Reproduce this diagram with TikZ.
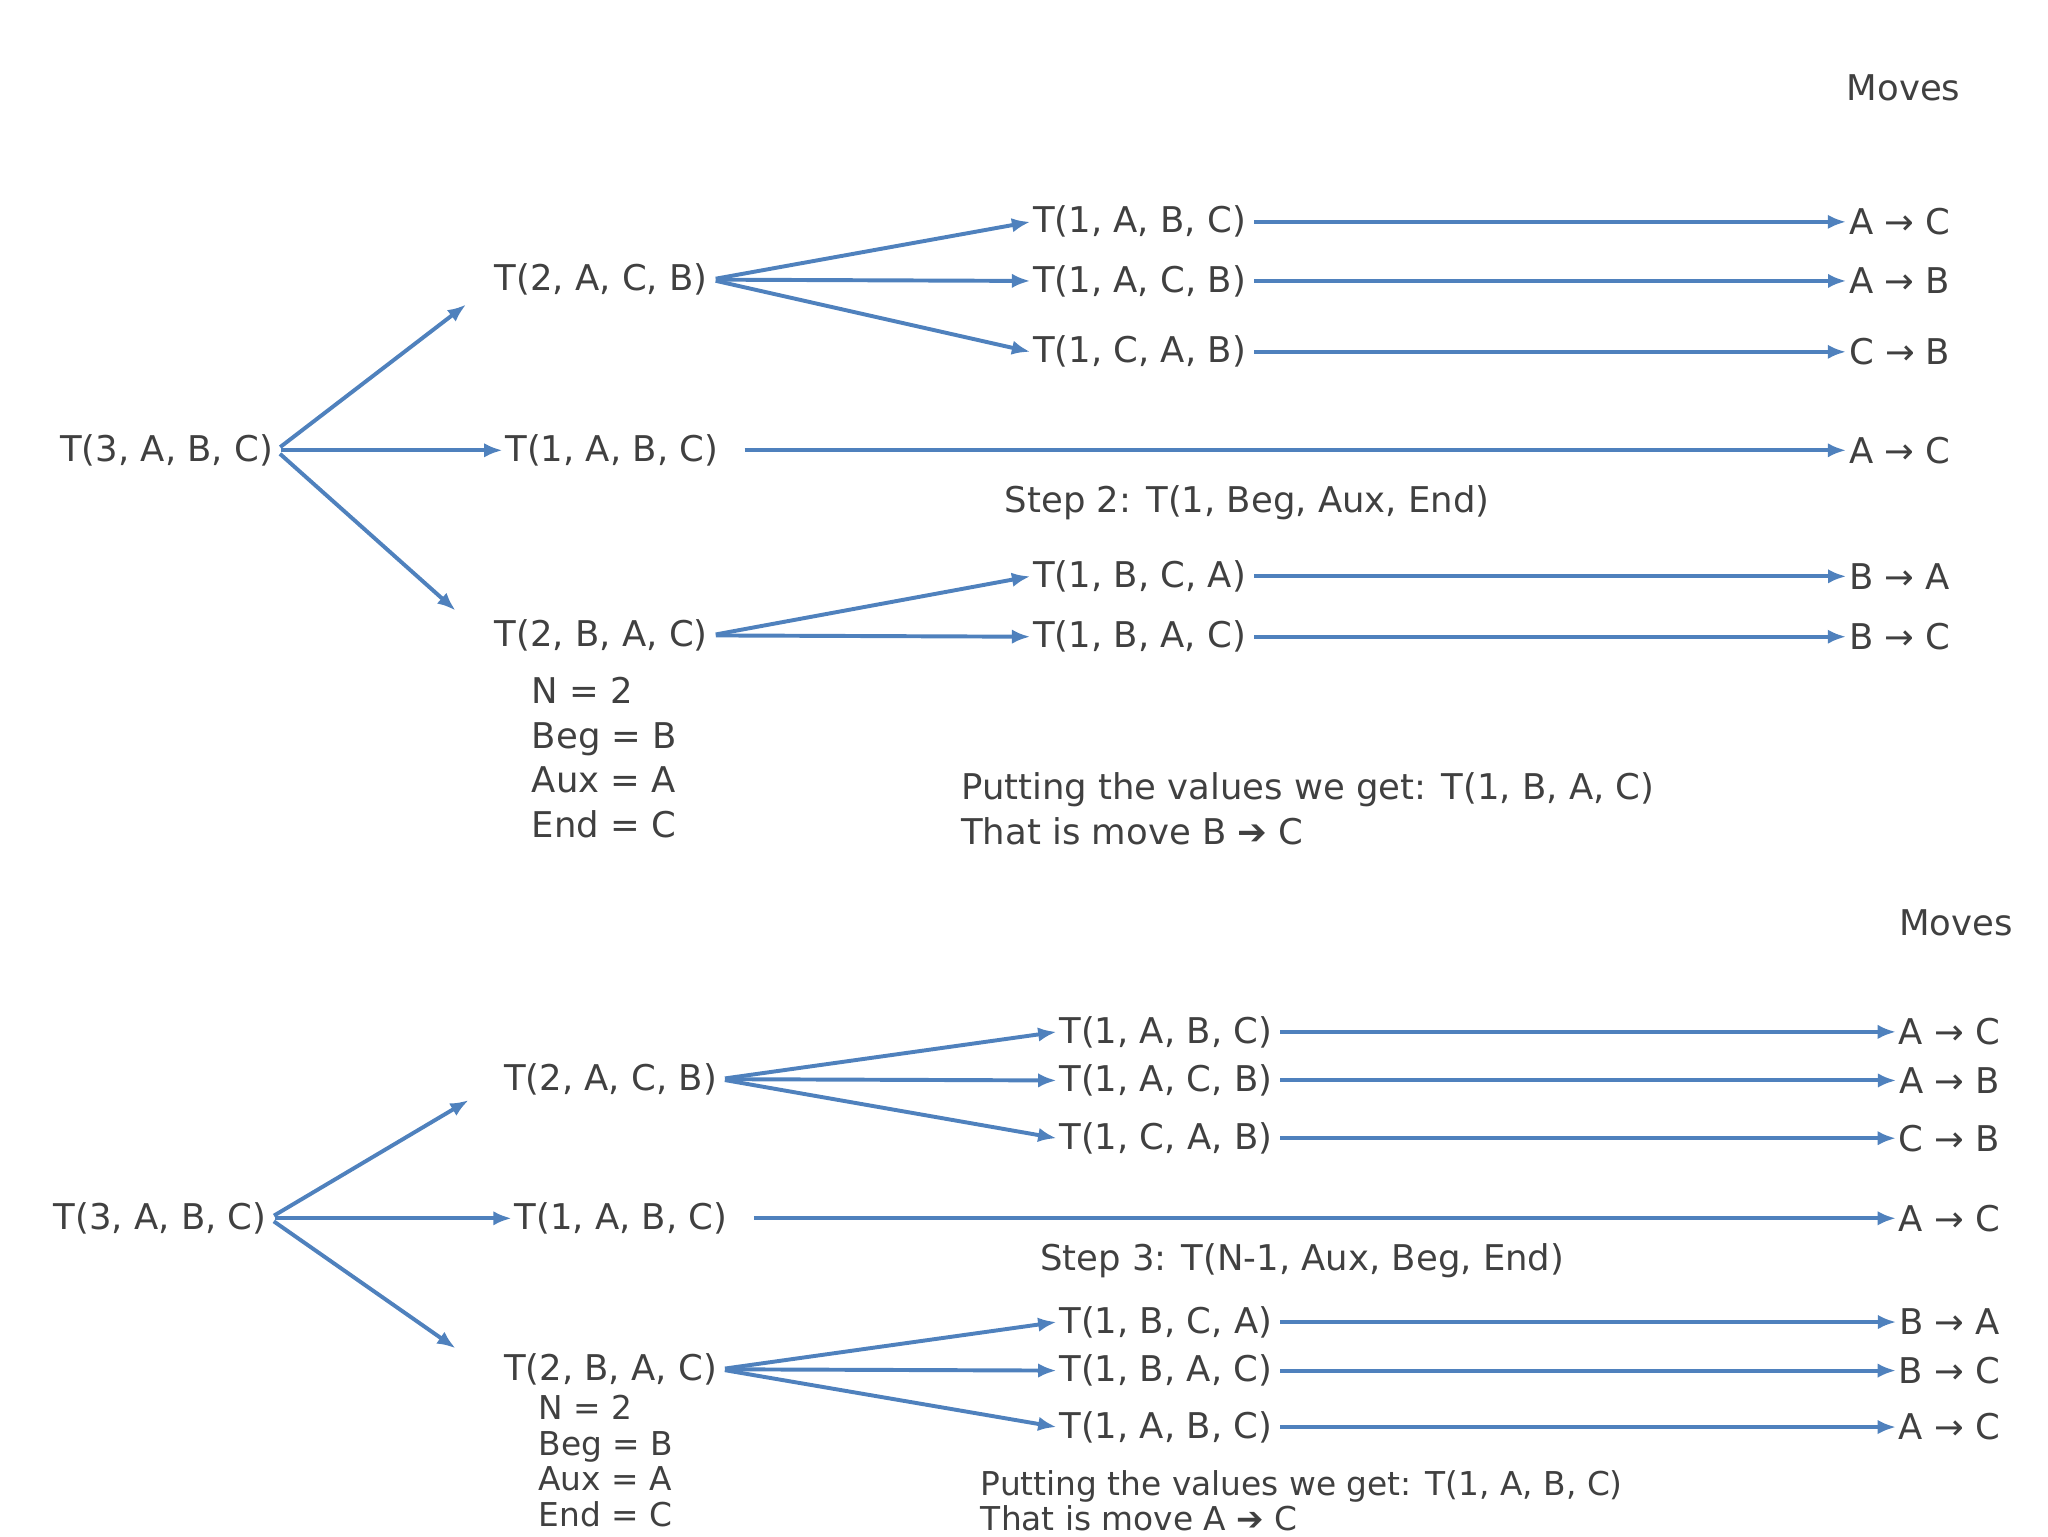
\documentclass[tikz,border=0pt]{standalone}
\usepackage{fontspec}
\setmainfont{DejaVu Sans}
\usepackage{tikz}
\definecolor{arrowblue}{RGB}{79,129,189}
\tikzset{arr/.style={-{Latex[length=14pt,width=11pt]}, line width=3pt, color=arrowblue, shorten <=4pt},
         lbl/.style={font=\fontsize{27}{30}\selectfont, inner sep=2pt},
         note/.style={font=\fontsize{27}{34}\selectfont, inner sep=0pt, anchor=west, align=left},
         snote/.style={note, font=\fontsize{25}{27}\selectfont}}
\usetikzlibrary{arrows.meta}
\begin{document}
\begin{tikzpicture}[x=1pt, y=-1pt, color=black!75]
        \useasboundingbox (0,0) rectangle (1560,1170);
        % top tree
        \node[lbl] (mv1) at (1450,67) {Moves};
        \node[lbl] (r1) at (127,343) {T(3, A, B, C)};
        \node[lbl] (p1) at (458,213) {T(2, A, C, B)};
        \node[lbl] (m1) at (466,343) {T(1, A, B, C)};
        \node[lbl] (q1) at (458,484) {T(2, B, A, C)};
        \node[lbl] (a1) at (868,169) {T(1, A, B, C)};
        \node[lbl] (b1) at (868,214) {T(1, A, C, B)};
        \node[lbl] (c1) at (868,268) {T(1, C, A, B)};
        \node[lbl] (d1) at (868,439) {T(1, B, C, A)};
        \node[lbl] (e1) at (868,485) {T(1, B, A, C)};
        \node[lbl] (ma1) at (1447,169) {A → C};
        \node[lbl] (mb1) at (1447,214) {A → B};
        \node[lbl] (mc1) at (1447,268) {C → B};
        \node[lbl] (mm1) at (1447,343) {A → C};
        \node[lbl] (md1) at (1447,439) {B → A};
        \node[lbl] (me1) at (1447,485) {B → C};
        \node[lbl] (s1) at (950,383) {Step 2: T(1, Beg, Aux, End)};
        \node[note] (n1) at (405,577) {N = 2\\Beg = B\\Aux = A\\End = C};
        \node[note] (t1) at (732,616) {Putting the values we get: T(1, B, A, C)\\That is move B ➔ C};
        \draw[arr] (r1.east) -- (355,232);
        \draw[arr] (r1.east) -- (m1.west);
        \draw[arr] (r1.east) -- (347,465);
        \draw[arr] (p1.east) -- (a1.west);
        \draw[arr] (p1.east) -- (b1.west);
        \draw[arr] (p1.east) -- (c1.west);
        \draw[arr] (q1.east) -- (d1.west);
        \draw[arr] (q1.east) -- (e1.west);
        \draw[arr] (a1.east) -- (ma1.west);
        \draw[arr] (b1.east) -- (mb1.west);
        \draw[arr] (c1.east) -- (mc1.west);
        \draw[arr] ([xshift=14pt]m1.east) -- (mm1.west);
        \draw[arr] (d1.east) -- (md1.west);
        \draw[arr] (e1.east) -- (me1.west);

        % bottom tree
        \node[lbl] (mv2) at (1490,703) {Moves};
        \node[lbl] (r2) at (122,928) {T(3, A, B, C)};
        \node[lbl] (p2) at (465,822) {T(2, A, C, B)};
        \node[lbl] (m2) at (473,928) {T(1, A, B, C)};
        \node[lbl] (q2) at (465,1043) {T(2, B, A, C)};
        \node[lbl] (a2) at (888,786) {T(1, A, B, C)};
        \node[lbl] (b2) at (888,823) {T(1, A, C, B)};
        \node[lbl] (c2) at (888,867) {T(1, C, A, B)};
        \node[lbl] (d2) at (888,1007) {T(1, B, C, A)};
        \node[lbl] (e2) at (888,1044) {T(1, B, A, C)};
        \node[lbl] (f2) at (888,1087) {T(1, A, B, C)};
        \node[lbl] (ma2) at (1485,786) {A → C};
        \node[lbl] (mb2) at (1485,823) {A → B};
        \node[lbl] (mc2) at (1485,867) {C → B};
        \node[lbl] (mm2) at (1485,928) {A → C};
        \node[lbl] (md2) at (1485,1007) {B → A};
        \node[lbl] (me2) at (1485,1044) {B → C};
        \node[lbl] (mf2) at (1485,1087) {A → C};
        \node[lbl] (s2) at (992,960) {Step 3: T(N-1, Aux, Beg, End)};
        \node[snote] (n2) at (410,1113) {N = 2\\Beg = B\\Aux = A\\End = C};
        \node[snote] (t2) at (747,1143) {Putting the values we get: T(1, A, B, C)\\That is move A ➔ C};
        \draw[arr] (r2.east) -- (357,838);
        \draw[arr] (r2.east) -- (m2.west);
        \draw[arr] (r2.east) -- (347,1027);
        \draw[arr] (p2.east) -- (a2.west);
        \draw[arr] (p2.east) -- (b2.west);
        \draw[arr] (p2.east) -- (c2.west);
        \draw[arr] (q2.east) -- (d2.west);
        \draw[arr] (q2.east) -- (e2.west);
        \draw[arr] (q2.east) -- (f2.west);
        \draw[arr] (a2.east) -- (ma2.west);
        \draw[arr] (b2.east) -- (mb2.west);
        \draw[arr] (c2.east) -- (mc2.west);
        \draw[arr] ([xshift=14pt]m2.east) -- (mm2.west);
        \draw[arr] (d2.east) -- (md2.west);
        \draw[arr] (e2.east) -- (me2.west);
        \draw[arr] (f2.east) -- (mf2.west);
    \end{tikzpicture}
\end{document}
